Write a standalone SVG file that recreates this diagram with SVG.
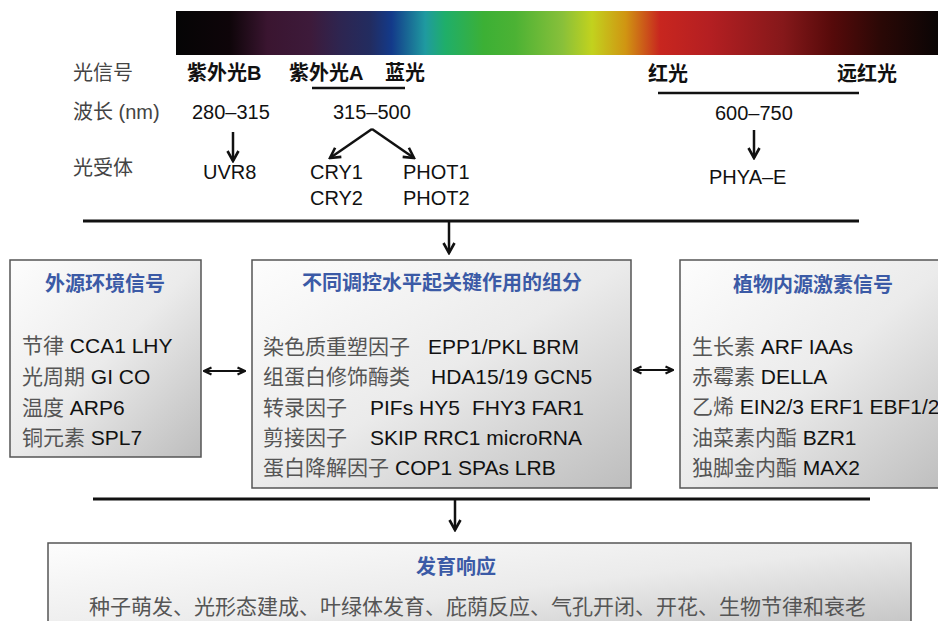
<svg xmlns="http://www.w3.org/2000/svg" width="938" height="621" viewBox="0 0 938 621">
<defs>
<linearGradient id="spec" gradientUnits="userSpaceOnUse" x1="176" y1="0" x2="938" y2="0">
<stop offset="0" stop-color="#050505"/>
<stop offset="0.07" stop-color="#0e0509"/>
<stop offset="0.12" stop-color="#3a1530"/>
<stop offset="0.176" stop-color="#3d1a3a"/>
<stop offset="0.215" stop-color="#2e2550"/>
<stop offset="0.255" stop-color="#222c60"/>
<stop offset="0.283" stop-color="#133a8a"/>
<stop offset="0.327" stop-color="#1f9aa0"/>
<stop offset="0.353" stop-color="#1fae6a"/>
<stop offset="0.404" stop-color="#3cb035"/>
<stop offset="0.445" stop-color="#4cb234"/>
<stop offset="0.507" stop-color="#88c03a"/>
<stop offset="0.546" stop-color="#c2d21e"/>
<stop offset="0.59" stop-color="#d09512"/>
<stop offset="0.635" stop-color="#c8261f"/>
<stop offset="0.70" stop-color="#b41f22"/>
<stop offset="0.797" stop-color="#85181a"/>
<stop offset="0.861" stop-color="#560a0a"/>
<stop offset="0.925" stop-color="#2a0806"/>
<stop offset="1" stop-color="#0a0505"/>
</linearGradient>
<linearGradient id="boxg" x1="0" y1="0" x2="1" y2="1">
<stop offset="0" stop-color="#fdfdfd"/>
<stop offset="0.5" stop-color="#ebebeb"/>
<stop offset="1" stop-color="#bdbdbd"/>
</linearGradient>
<marker id="ah" viewBox="0 0 14 14" refX="12" refY="7" markerWidth="14" markerHeight="14" markerUnits="userSpaceOnUse" orient="auto-start-reverse">
<path d="M2,1.5 L12,7 L2,12.5" fill="none" stroke="#111" stroke-width="2.6"/>
</marker>
<marker id="ahs" viewBox="0 0 10 10" refX="9" refY="5" markerWidth="10" markerHeight="10" markerUnits="userSpaceOnUse" orient="auto-start-reverse">
<path d="M1.5,1.5 L9,5 L1.5,8.5" fill="none" stroke="#111" stroke-width="2.2"/>
</marker>
</defs>
<style>
text{font-family:"Liberation Sans","Noto Sans CJK SC",sans-serif;}
.lbl{font-size:20px;fill:#444}
.hd{font-size:20px;fill:#111;font-weight:bold}
.num{font-size:20px;fill:#111}
.box{fill:url(#boxg);stroke:#555;stroke-width:1.5}
.title{font-size:20px;font-weight:bold;fill:#3b5aa6;text-anchor:middle}
.item{font-size:21px;fill:#111}
.cn{fill:#555}
.ln{stroke:#111;stroke-width:3;fill:none}
.ul{stroke:#111;stroke-width:2.5;fill:none}
.arr{stroke:#111;stroke-width:2.5;fill:none;marker-end:url(#ah)}
.darr{stroke:#111;stroke-width:2.2;fill:none;marker-start:url(#ahs);marker-end:url(#ahs)}
</style>

<g id="spectrum">
<rect x="176" y="11" width="762" height="44" fill="url(#spec)"/>
</g>

<g id="light-labels">
<text class="lbl" x="73" y="80">光信号</text>
<text class="hd" x="187" y="80">紫外光B</text>
<text class="hd" x="289" y="80">紫外光A</text>
<text class="hd" x="385" y="80">蓝光</text>
<text class="hd" x="648" y="81">红光</text>
<text class="hd" x="837" y="81">远红光</text>
<text class="lbl" x="73" y="119">波长 (nm)</text>
<text class="num" x="192" y="119">280–315</text>
<text class="num" x="333" y="119">315–500</text>
<text class="num" x="715" y="120">600–750</text>
<text class="lbl" x="73" y="175">光受体</text>
<text class="num" x="203" y="179">UVR8</text>
<text class="num" x="310" y="179">CRY1</text>
<text class="num" x="310" y="205">CRY2</text>
<text class="num" x="403" y="179">PHOT1</text>
<text class="num" x="403" y="205">PHOT2</text>
<text class="num" x="709" y="184">PHYA–E</text>
</g>

<g id="box-external">
<rect class="box" x="10" y="260" width="191" height="197"/>
<text class="title" x="105" y="291">外源环境信号</text>
<text class="item" x="22" y="353"><tspan class="cn">节律</tspan> CCA1 LHY</text>
<text class="item" x="22" y="384"><tspan class="cn">光周期</tspan> GI CO</text>
<text class="item" x="22" y="415"><tspan class="cn">温度</tspan> ARP6</text>
<text class="item" x="22" y="445"><tspan class="cn">铜元素</tspan> SPL7</text>
</g>

<g id="box-core">
<rect class="box" x="252" y="260" width="379" height="228"/>
<text class="title" x="442" y="290">不同调控水平起关键作用的组分</text>
<text class="item" x="263" y="354"><tspan class="cn">染色质重塑因子</tspan><tspan x="428">EPP1/PKL BRM</tspan></text>
<text class="item" x="263" y="384"><tspan class="cn">组蛋白修饰酶类</tspan><tspan x="431">HDA15/19 GCN5</tspan></text>
<text class="item" x="263" y="415"><tspan class="cn">转录因子</tspan><tspan x="370">PIFs HY5</tspan><tspan x="472">FHY3 FAR1</tspan></text>
<text class="item" x="263" y="445"><tspan class="cn">剪接因子</tspan><tspan x="370">SKIP RRC1 microRNA</tspan></text>
<text class="item" x="263" y="475"><tspan class="cn">蛋白降解因子</tspan><tspan x="395">COP1 SPAs LRB</tspan></text>
</g>

<g id="box-hormone">
<rect class="box" x="680" y="260" width="270" height="228"/>
<text class="title" x="813" y="292">植物内源激素信号</text>
<text class="item" x="692" y="354"><tspan class="cn">生长素</tspan> ARF IAAs</text>
<text class="item" x="692" y="384"><tspan class="cn">赤霉素</tspan> DELLA</text>
<text class="item" x="692" y="414"><tspan class="cn">乙烯</tspan> EIN2/3 ERF1 EBF1/2</text>
<text class="item" x="692" y="445"><tspan class="cn">油菜素内酯</tspan> BZR1</text>
<text class="item" x="692" y="475"><tspan class="cn">独脚金内酯</tspan> MAX2</text>
</g>

<g id="box-response">
<rect class="box" x="48" y="543" width="863" height="100"/>
<text class="title" x="456" y="574">发育响应</text>
<text class="item cn" x="89" y="614">种子萌发、光形态建成、叶绿体发育、庇荫反应、气孔开闭、开花、生物节律和衰老</text>
</g>

<g id="connectors">
<line class="ul" x1="312" y1="88" x2="405" y2="88"/>
<line class="ul" x1="658" y1="93" x2="859" y2="93"/>
<line class="arr" x1="233" y1="132" x2="233" y2="161"/>
<line class="arr" x1="372" y1="129" x2="330" y2="158"/>
<line class="arr" x1="372" y1="129" x2="414" y2="158"/>
<line class="arr" x1="754" y1="130" x2="754" y2="158"/>
<line class="ln" x1="83" y1="221" x2="859" y2="221"/>
<line class="arr" x1="449" y1="221" x2="449" y2="253"/>
<line class="darr" x1="204" y1="371" x2="245" y2="371"/>
<line class="darr" x1="634" y1="370" x2="673" y2="370"/>
<line class="ln" x1="93" y1="499" x2="870" y2="499"/>
<line class="arr" x1="455" y1="499" x2="455" y2="530"/>
</g>
</svg>
